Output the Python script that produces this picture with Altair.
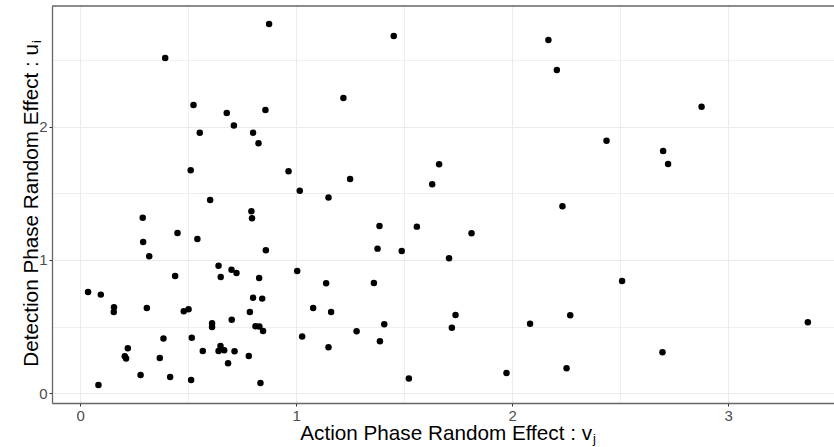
import altair as alt
import pandas as pd

# Action phase (v_j) and detection phase (u_i) random effects per unit
action_effect = [
    0.875, 0.394, 0.525, 0.679, 0.858, 0.712, 0.554, 0.801, 0.826, 1.219,
    1.452, 0.512, 0.965, 1.017, 1.150, 1.250, 0.602, 0.290, 0.793, 0.796,
    1.386, 1.559, 2.168, 2.207, 2.877, 2.437, 2.699, 2.722, 1.662, 1.630,
    2.233, 0.451, 0.543, 0.292, 0.320, 0.860, 1.377, 1.489, 0.641, 0.701,
    0.724, 0.651, 0.440, 0.829, 1.005, 1.139, 1.360, 0.037, 0.096, 0.157,
    0.156, 0.309, 0.801, 0.843, 0.480, 0.502, 0.786, 1.079, 1.162, 0.611,
    0.611, 0.702, 0.812, 0.830, 0.847, 1.280, 1.408, 0.386, 0.517, 1.028,
    0.221, 0.207, 0.213, 0.369, 0.568, 0.650, 0.641, 0.667, 0.715, 0.781,
    1.150, 1.388, 0.685, 0.280, 0.417, 0.514, 0.085, 0.835, 1.522, 1.812,
    1.708, 2.509, 1.738, 1.721, 2.083, 2.269, 3.369, 2.696, 1.974, 2.252,
]
detection_effect = [
    2.770, 2.515, 2.163, 2.103, 2.125, 2.008, 1.955, 1.955, 1.875, 2.215,
    2.680, 1.673, 1.665, 1.520, 1.468, 1.608, 1.450, 1.317, 1.365, 1.313,
    1.255, 1.250, 2.650, 2.425, 2.150, 1.895, 1.818, 1.720, 1.718, 1.568,
    1.403, 1.203, 1.158, 1.135, 1.028, 1.073, 1.085, 1.068, 0.957, 0.927,
    0.902, 0.872, 0.880, 0.865, 0.917, 0.825, 0.827, 0.760, 0.740, 0.645,
    0.610, 0.640, 0.717, 0.710, 0.615, 0.630, 0.610, 0.640, 0.610, 0.525,
    0.497, 0.552, 0.503, 0.500, 0.467, 0.465, 0.518, 0.410, 0.417, 0.425,
    0.338, 0.278, 0.260, 0.265, 0.317, 0.355, 0.317, 0.322, 0.315, 0.280,
    0.345, 0.390, 0.225, 0.137, 0.122, 0.100, 0.062, 0.077, 0.110, 1.200,
    1.013, 0.842, 0.587, 0.492, 0.522, 0.585, 0.533, 0.307, 0.152, 0.187,
]

x_title_main = "Action Phase Random Effect :  v"
x_title_sub = "j"
y_title_main = "Detection Phase Random Effect :  u"
y_title_sub = "i"

x_breaks = [0, 0.5, 1, 1.5, 2, 2.5, 3]
y_breaks = [0, 0.5, 1, 1.5, 2, 2.5]
x_domain = [-0.13, 3.49]
y_domain = [-0.073, 2.905]

W, H = 782, 397
FONT = "Liberation Sans"
BORDER = "#666666"

df = pd.DataFrame({"v": action_effect, "u": detection_effect})

# half-unit breaks carry only a grid line; whole units get tick and label
is_minor = "datum.value % 1 !== 0"
minor_off = {"condition": {"test": is_minor, "value": 0}, "value": 1}
grid_w = {"condition": {"test": is_minor, "value": 0.8}, "value": 1.1}
label_expr = f"{is_minor} ? '' : format(datum.value, 'd')"


def make_axis(values):
    return alt.Axis(
        values=values, title=None, grid=True, gridColor="#EBEBEB",
        gridWidth=grid_w, labelExpr=label_expr, labelFont=FONT,
        labelFontSize=15, labelColor="#4D4D4D", labelPadding=2,
        labelFlush=False, labelOverlap=False, tickColor="#333333",
        tickSize=3, tickWidth=1, tickOpacity=minor_off,
        domainColor=BORDER, domainWidth=1.3,
    )


points = alt.Chart(df).mark_circle(size=42, color="black", opacity=1).encode(
    x=alt.X("v:Q", scale=alt.Scale(domain=x_domain, nice=False, zero=False),
            axis=make_axis(x_breaks)),
    y=alt.Y("u:Q", scale=alt.Scale(domain=y_domain, nice=False, zero=False),
            axis=make_axis(y_breaks)),
)

# top edge of the panel box
top_edge = alt.Chart(pd.DataFrame({"k": [0]})).mark_rule(
    color=BORDER, strokeWidth=1.3
).encode(x=alt.value(0), x2=alt.value(W), y=alt.value(0))

titles = pd.DataFrame({
    "xm": [x_title_main], "xs": [x_title_sub],
    "ym": [y_title_main], "ys": [y_title_sub],
})
base_t = alt.Chart(titles)
x_main = base_t.mark_text(font=FONT, fontSize=20.7, align="right",
                          baseline="alphabetic", color="black").encode(
    text="xm:N", x=alt.value(540), y=alt.value(434))
x_sub = base_t.mark_text(font=FONT, fontSize=13, align="left",
                         baseline="alphabetic", color="black").encode(
    text="xs:N", x=alt.value(541), y=alt.value(436.5))
y_main = base_t.mark_text(font=FONT, fontSize=20.7, align="right", angle=270,
                          baseline="alphabetic", color="black").encode(
    text="ym:N", x=alt.value(-13.7), y=alt.value(38))
y_sub = base_t.mark_text(font=FONT, fontSize=13, align="left", angle=270,
                         baseline="alphabetic", color="black").encode(
    text="ys:N", x=alt.value(-11.5), y=alt.value(37))

chart = alt.layer(points, top_edge, x_main, x_sub, y_main, y_sub).properties(
    width=W, height=H,
    autosize=alt.AutoSizeParams(type="none"),
    padding={"left": 52, "top": 6, "right": 0, "bottom": 44},
    background="white",
).configure_view(stroke=None)

chart.save("out.html", embed_options={"renderer": "svg", "actions": False})
